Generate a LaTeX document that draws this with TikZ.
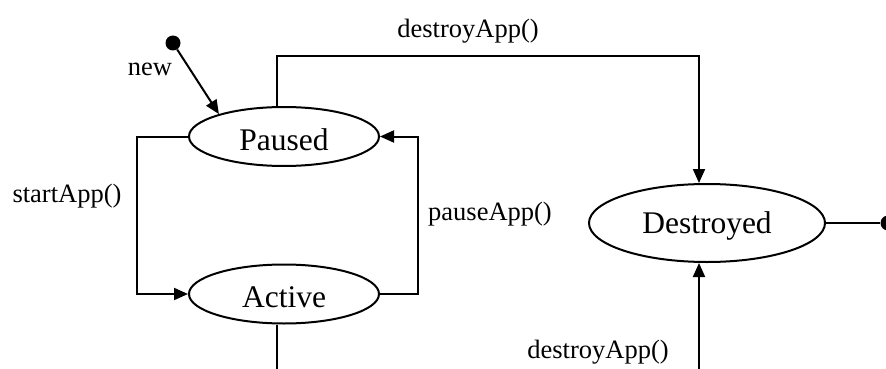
\documentclass[tikz,border=0pt]{standalone}
\usepackage{fontspec}
\setmainfont{Liberation Serif}
\usetikzlibrary{shapes.geometric,arrows.meta}
\begin{document}
\begin{tikzpicture}[x=1pt,y=-1pt,
  state/.style={ellipse,draw,line width=2pt,inner sep=0pt,minimum width=190pt,minimum height=59pt,font=\fontsize{31.5}{36}\selectfont,text height=27pt,text depth=0pt},
  lbl/.style={fill=white,inner sep=3pt,font=\fontsize{26.5}{30}\selectfont},
  conn/.style={line width=2pt},
  arr/.style={conn,-{Triangle[length=14pt,width=12pt]}},
  dot/.style={circle,fill=black,inner sep=0pt,minimum size=15pt}]
\useasboundingbox (0,0) rectangle (886,369);
\node[state] (paused) at (284,136.5) {Paused};
\node[state] (active) at (284,294) {Active};
\node[state,minimum width=236pt,minimum height=78pt,text height=20pt] (destroyed) at (707,223) {Destroyed};
\node[dot] (init) at (173,43) {};
\node[dot] (final) at (888,223) {};
\coordinate (tr) at (699,56);
\coordinate (sl) at (137,215);
\coordinate (pr) at (418,215);
\coordinate (aend) at (277,372);
\coordinate (bstart) at (699,372);
\node[lbl] (lnew) at (150,69) {new};
\node[lbl] (ltop) at (468,31) {destroyApp()};
\node[lbl] (lstart) at (67,196) {startApp()};
\node[lbl] (lpause) at (490,214) {pauseApp()};
\node[lbl] (lbot) at (598,352.5) {destroyApp()};
\draw[arr] (init) -- (paused.161);
\draw[arr] ([xshift=-7pt]paused.north) |- (tr) -- (tr |- destroyed.north);
\draw[arr] (paused.west) -| (sl) |- (active.west);
\draw[arr] (active.east) -| (pr) |- (paused.east);
\draw[conn] ([xshift=-7pt]active.south) -- (aend);
\draw[conn] (destroyed.east) -- (final);
\draw[arr] (bstart) -- (bstart |- destroyed.south);
\end{tikzpicture}
\end{document}
